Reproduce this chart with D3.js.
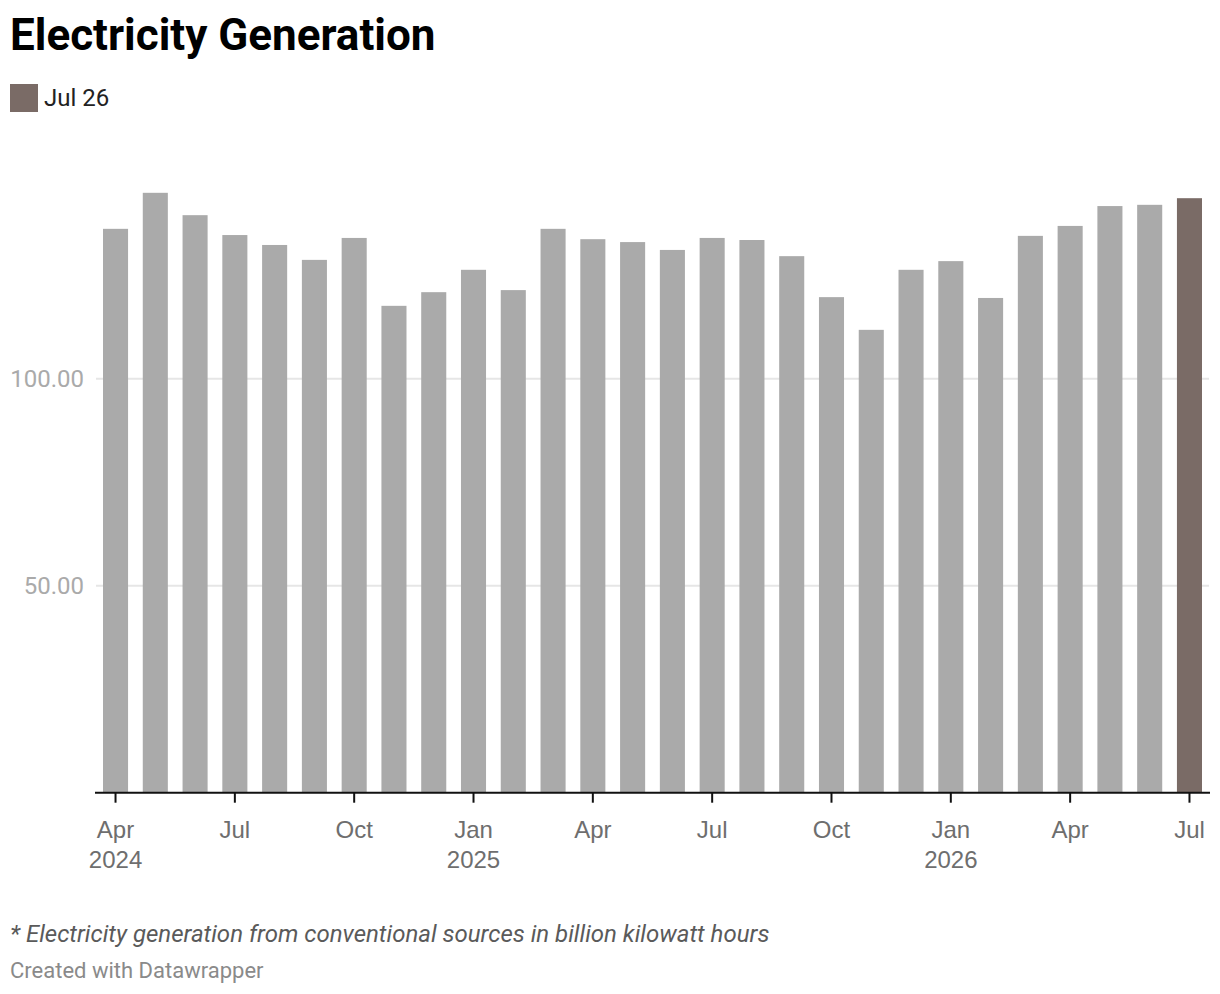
<!DOCTYPE html>
<html>
<head>
<meta charset="utf-8">
<script src="https://cdn.jsdelivr.net/npm/d3@7"></script>
<style>
body { margin: 0; background: #fff; font-family: Roboto, "Noto Sans", sans-serif; }
.title { font-weight: 700; font-size: 44px; fill: #000; }
.legend-text { font-size: 24px; fill: #222; }
.y-label { font-size: 24px; fill: #aaa; }
.x-label { font-size: 24px; fill: #6e6e6e; }
.grid { stroke: #e6e6e6; stroke-width: 2px; }
.note { font-size: 24px; font-style: italic; fill: #5a5a5a; }
.credit { font-size: 22px; fill: #8a8a8a; }
</style>
</head>
<body>
<svg id="chart" width="1220" height="994"></svg>
<script>

// data
var months = ["2024-04","2024-05","2024-06","2024-07","2024-08","2024-09","2024-10","2024-11","2024-12",
              "2025-01","2025-02","2025-03","2025-04","2025-05","2025-06","2025-07","2025-08","2025-09",
              "2025-10","2025-11","2025-12","2026-01","2026-02","2026-03","2026-04","2026-05","2026-06","2026-07"];
var generation = [136.2, 144.9, 139.5, 134.7, 132.3, 128.7, 134.0, 117.6, 120.9,
                  126.3, 121.4, 136.2, 133.7, 133.0, 131.1, 134.0, 133.5, 129.6,
                  119.7, 111.8, 126.3, 128.4, 119.5, 134.5, 136.9, 141.7, 142.0, 143.6];
var yTicks = [50, 100];
var tickMonths = ["2024-04","2024-07","2024-10","2025-01","2025-04","2025-07","2025-10","2026-01","2026-04","2026-07"];
var highlight = "2026-07";
var legendLabel = "Jul 26";

var svg = d3.select("#chart");

var x = d3.scaleBand()
    .domain(months)
    .range([96, 1209])
    .paddingInner(0.37)
    .paddingOuter(0.176);

var y = d3.scaleLinear()
    .domain([0, 100])
    .range([792.7, 378.7]);

var parse = d3.timeParse("%Y-%m");
var fmtMonth = d3.timeFormat("%b");
var fmtYear = d3.timeFormat("%Y");

// title + legend
svg.append("text")
    .attr("class", "title")
    .attr("x", 10).attr("y", 50)
    .text("Electricity Generation");

svg.append("rect")
    .attr("x", 10).attr("y", 84)
    .attr("width", 28).attr("height", 28)
    .attr("fill", "#7a6b66");

svg.append("text")
    .attr("class", "legend-text")
    .attr("x", 44).attr("y", 106)
    .text(legendLabel);

// gridlines
svg.selectAll(".grid")
    .data(yTicks)
    .enter().append("line")
    .attr("class", "grid")
    .attr("x1", 96).attr("x2", 1209)
    .attr("y1", function(d) { return y(d); })
    .attr("y2", function(d) { return y(d); });

svg.selectAll(".y-label")
    .data(yTicks)
    .enter().append("text")
    .attr("class", "y-label")
    .attr("x", 84)
    .attr("y", function(d) { return y(d) + 8; })
    .attr("text-anchor", "end")
    .text(function(d) { return d3.format(".2f")(d); });

// bars
svg.selectAll(".bar")
    .data(months)
    .enter().append("rect")
    .attr("class", "bar")
    .attr("x", function(d) { return x(d); })
    .attr("width", x.bandwidth())
    .attr("y", function(d, i) { return y(generation[i]); })
    .attr("height", function(d, i) { return y(0) - y(generation[i]); })
    .attr("fill", function(d) { return d === highlight ? "#7a6b66" : "#aaaaaa"; });

// x axis
var xAxis = d3.axisBottom(x)
    .tickValues(tickMonths)
    .tickSize(10)
    .tickFormat("");

var gx = svg.append("g")
    .attr("transform", "translate(0," + y(0) + ")")
    .call(xAxis);

gx.select(".domain")
    .attr("d", "M95,0H1210")
    .attr("stroke", "#111")
    .attr("stroke-width", 2);
gx.selectAll(".tick line").attr("stroke", "#111").attr("stroke-width", 2);

var lbl = gx.selectAll(".tick").append("text")
    .attr("class", "x-label")
    .attr("text-anchor", "middle")
    .attr("fill", null);

lbl.append("tspan")
    .attr("x", 0).attr("y", 45)
    .text(function(d) { return fmtMonth(parse(d)); });

lbl.append("tspan")
    .attr("x", 0).attr("y", 75)
    .text(function(d) { var m = parse(d); return (m.getMonth() === 0 || d === tickMonths[0]) ? fmtYear(m) : ""; });

// footer
svg.append("text")
    .attr("class", "note")
    .attr("x", 10).attr("y", 942)
    .text("* Electricity generation from conventional sources in billion kilowatt hours");

svg.append("text")
    .attr("class", "credit")
    .attr("x", 10).attr("y", 978)
    .text("Created with Datawrapper");

</script>
</body>
</html>
